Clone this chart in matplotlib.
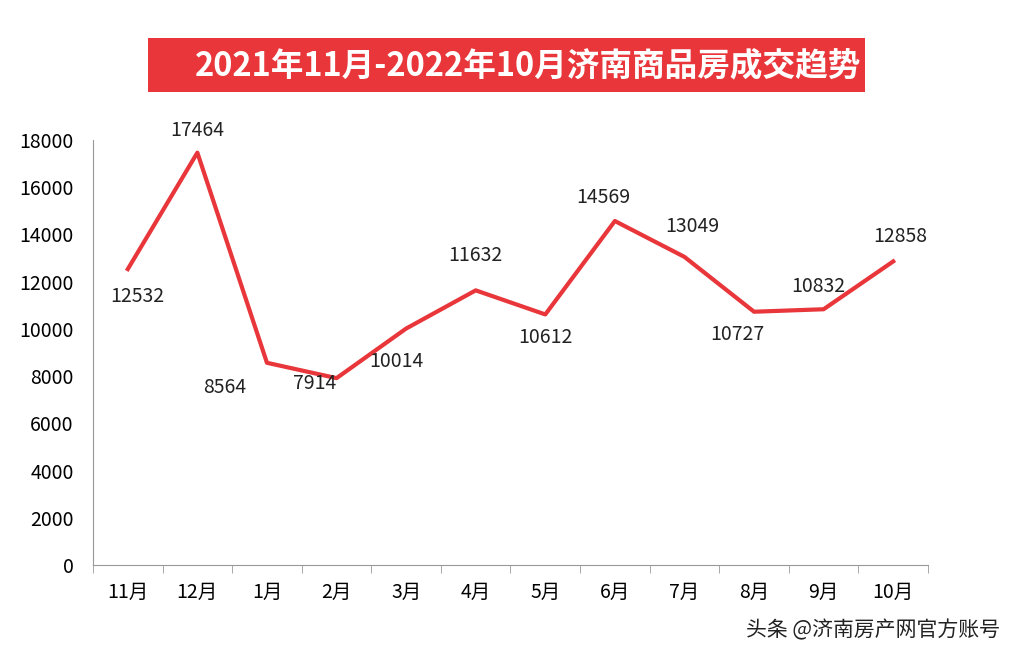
import matplotlib
matplotlib.use("Agg")
import matplotlib.pyplot as plt
from matplotlib.patches import Rectangle
from matplotlib import font_manager as fm

cands = [f.name for f in fm.fontManager.ttflist if "CJK" in f.name or "Noto Sans SC" in f.name]
fam = "Noto Sans CJK SC" if "Noto Sans CJK SC" in cands else (cands[0] if cands else "DejaVu Sans")
if not cands:
    import glob
    for p in glob.glob("/usr/share/fonts/**/*CJK*", recursive=True):
        try:
            fm.fontManager.addfont(p)
        except Exception:
            pass
    cands = [f.name for f in fm.fontManager.ttflist if "CJK" in f.name]
    fam = cands[0] if cands else "DejaVu Sans"
plt.rcParams["font.family"] = [fam, "DejaVu Sans"]

months = ["11月", "12月", "1月", "2月", "3月", "4月", "5月", "6月", "7月", "8月", "9月", "10月"]
values = [12532, 17464, 8564, 7914, 10014, 11632, 10612, 14569, 13049, 10727, 10832, 12858]
yticks = [0, 2000, 4000, 6000, 8000, 10000, 12000, 14000, 16000, 18000]
title = "2021年11月-2022年10月济南商品房成交趋势"
# label offsets in pixels (dx, dy)
offsets = [(10, -27), (0, 22), (-42, -25), (-22, -5), (-10, -33), (0, 35), (0, -23), (-12, 24), (8, 30), (-17, -23), (-5, 23), (7, 25)]

fig = plt.figure(figsize=(10.2, 6.6), dpi=100)
ax = fig.add_axes([93/1020, 1-565/660, (928-93)/1020, (565-140)/660])
x = list(range(len(months)))
ax.plot(x, values, color="#e8363a", lw=3)
ax.set_xlim(-0.5, 11.5)
ax.set_ylim(0, 18000)
ax.set_yticks(yticks)
ax.set_yticklabels([str(v) for v in yticks], fontsize=14)
ax.set_xticks(x)
ax.set_xticklabels(months, fontsize=14)
ax.set_xticks([i - 0.5 for i in range(13)], minor=True)
ax.tick_params(axis="x", which="major", length=0, pad=12)
ax.tick_params(axis="x", which="minor", length=6, color="#999999")
ax.tick_params(axis="y", length=0, pad=14)
for s in ["top", "right"]:
    ax.spines[s].set_visible(False)
ax.spines["left"].set_color("#999999")
ax.spines["bottom"].set_color("#999999")
for xi, v, (dx, dy) in zip(x, values, offsets):
    ax.annotate(str(v), (xi, v), xytext=(dx * 0.72, dy * 0.72), textcoords="offset points",
                ha="center", va="center", fontsize=14, color="#222222")

fig.patches.append(Rectangle((148/1020, 1-92/660), (865-148)/1020, 54/660, transform=fig.transFigure,
                             facecolor="#e8363a", edgecolor="none"))
fig.text(528/1020, 1-66/660, title, ha="center", va="center", fontsize=23.5, fontweight="bold", color="white")
fig.text(1000/1020, 1-630/660, "头条 @济南房产网官方账号", ha="right", va="center", fontsize=15, color="#222222")
fig.savefig("out.png", dpi=100)
